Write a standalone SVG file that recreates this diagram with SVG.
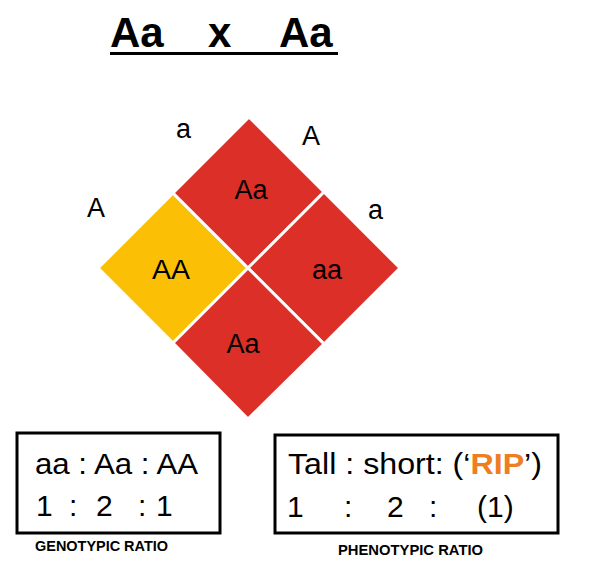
<svg xmlns="http://www.w3.org/2000/svg" width="590" height="566" viewBox="0 0 590 566">
<style>
.t{font-family:"Liberation Sans","Noto Sans",sans-serif;fill:#000}
.lbl{font-size:27px}
.cell{font-size:27px;text-anchor:middle}
.big{font-size:30px}
.sq{stroke:#fff;stroke-width:3}
.red{fill:#DB2F28}
.yel{fill:#FBBF06}
.box{fill:#fff;stroke:#000;stroke-width:3}
.cap{font-size:14px;font-weight:bold}
</style>
<rect width="590" height="566" fill="#fff"/>
<g id="title">
<text class="t" x="110" y="47" font-size="42" font-weight="bold">Aa</text>
<text class="t" x="208" y="47" font-size="42" font-weight="bold">x</text>
<text class="t" x="279" y="47" font-size="42" font-weight="bold">Aa</text>
<rect x="110" y="52" width="228" height="3" fill="#000"/>
</g>
<g id="square-AA">
<polygon class="sq yel" points="98,268 173,193 248,268 173,343"/>
<text class="t cell" x="171" y="279" textLength="38" lengthAdjust="spacingAndGlyphs">AA</text>
</g>
<g id="square-Aa-top">
<polygon class="sq red" points="173,193 249,117 324,192 248,268"/>
<text class="t cell" x="251" y="199">Aa</text>
</g>
<g id="square-aa">
<polygon class="sq red" points="248,268 324,192 400,268 324,344"/>
<text class="t cell" x="327" y="279">aa</text>
</g>
<g id="square-Aa-bottom">
<polygon class="sq red" points="173,343 248,268 324,344 248,419"/>
<text class="t cell" x="243" y="353">Aa</text>
</g>
<g id="alleles">
<text class="t lbl" x="176" y="138">a</text>
<text class="t lbl" x="302" y="145">A</text>
<text class="t lbl" x="87" y="217">A</text>
<text class="t lbl" x="368" y="219">a</text>
</g>
<g id="genotypic">
<rect class="box" x="17" y="433" width="203" height="100"/>
<text class="t big" x="35" y="474" textLength="163" lengthAdjust="spacingAndGlyphs">aa : Aa : AA</text>
<text class="t big" x="36" y="516">1</text>
<text class="t big" x="69" y="516">:</text>
<text class="t big" x="96" y="516">2</text>
<text class="t big" x="138" y="516">:</text>
<text class="t big" x="156" y="516">1</text>
<text class="t cap" x="35" y="551" textLength="133" lengthAdjust="spacingAndGlyphs">GENOTYPIC RATIO</text>
</g>
<g id="phenotypic">
<rect class="box" x="275" y="435" width="283" height="98"/>
<text class="t big" x="288" y="474" textLength="254" lengthAdjust="spacingAndGlyphs">Tall : short: (‘<tspan font-weight="bold" fill="#EF7D22">RIP</tspan>’)</text>
<text class="t big" x="287" y="517">1</text>
<text class="t big" x="344" y="517">:</text>
<text class="t big" x="387" y="517">2</text>
<text class="t big" x="429" y="517">:</text>
<text class="t big" x="477" y="517">(1)</text>
<text class="t cap" x="338" y="555" textLength="145" lengthAdjust="spacingAndGlyphs">PHENOTYPIC RATIO</text>
</g>
</svg>
